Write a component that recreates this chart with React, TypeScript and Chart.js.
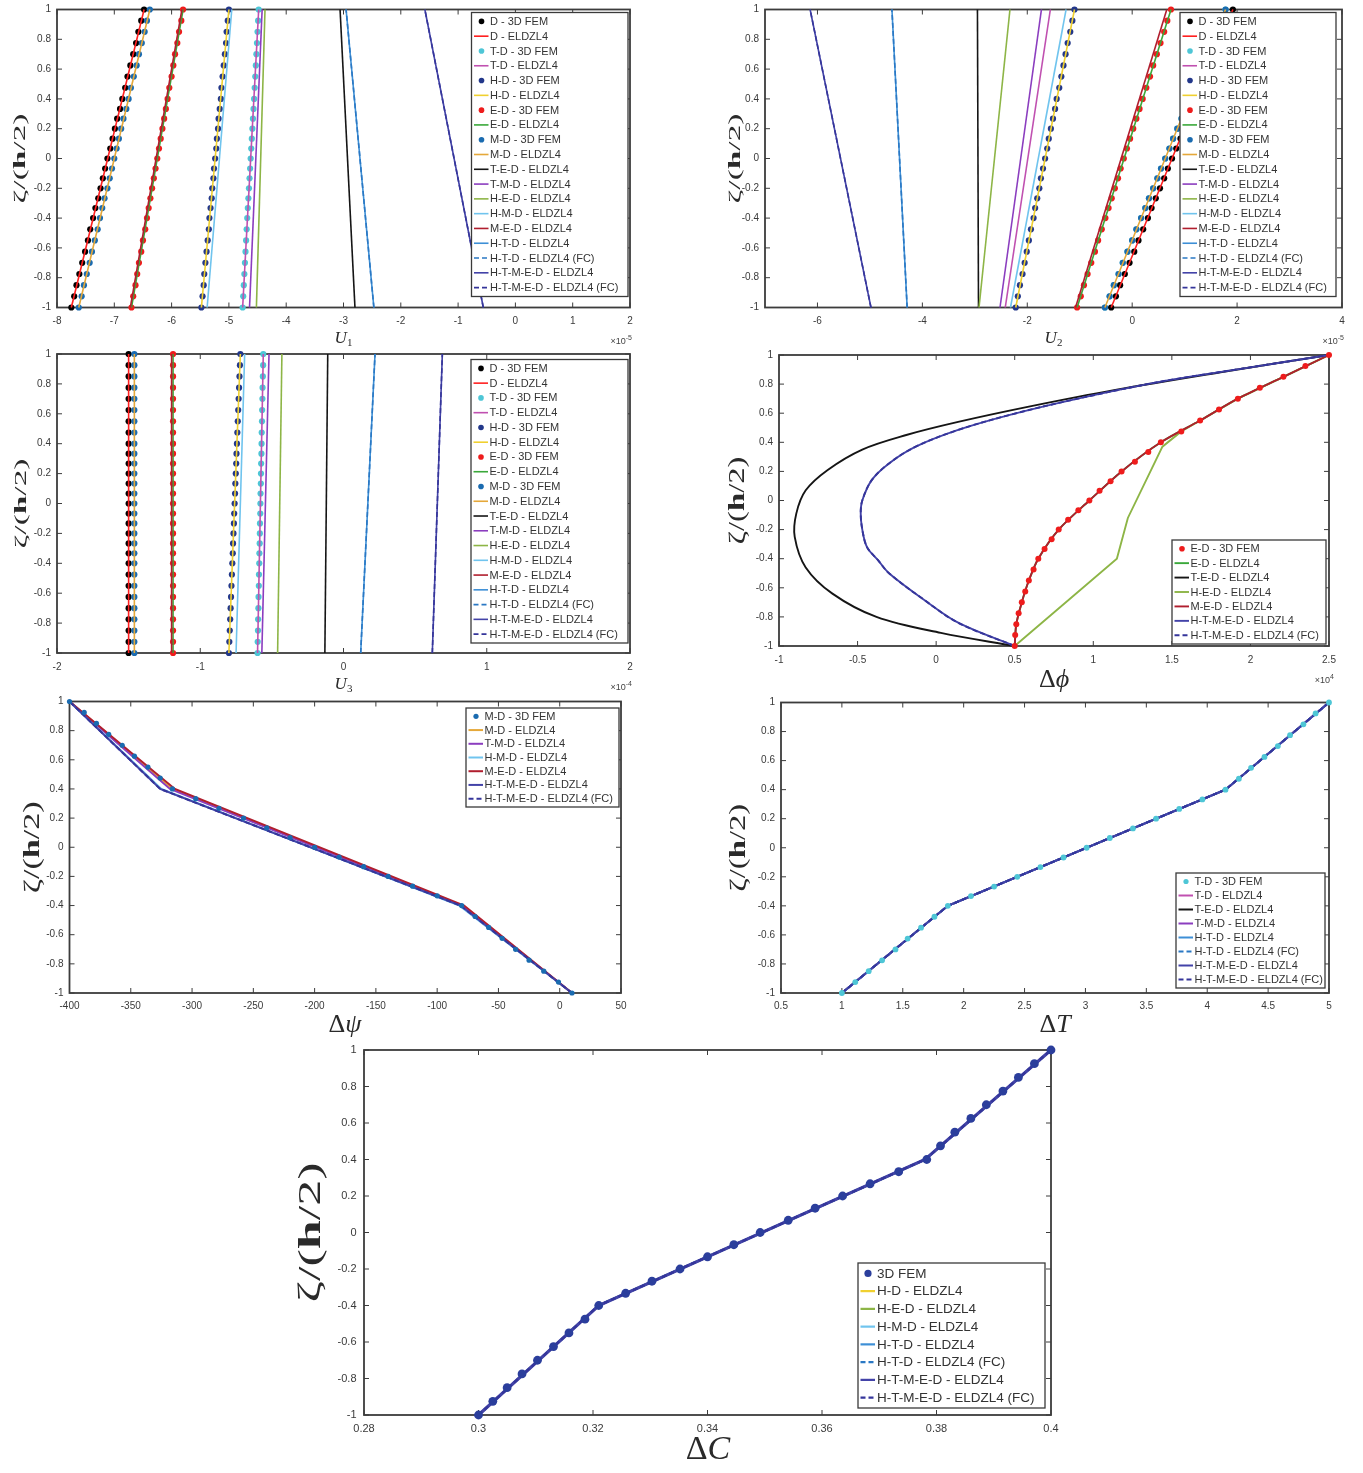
import React, { useEffect, useRef } from "react";
import { Chart, registerables } from "chart.js";

Chart.register(...registerables);

// ---------- through-thickness coordinates ζ/(h/2) ----------
const ZETA_FEM = [-1, -0.925, -0.85, -0.775, -0.7, -0.625, -0.55, -0.475, -0.4, -0.333, -0.267, -0.2, -0.133, -0.067, 0, 0.067, 0.133, 0.2, 0.267, 0.333, 0.4, 0.475, 0.55, 0.625, 0.7, 0.775, 0.85, 0.925, 1];
const ZETA_ENDS = [-1, 1];
const ZETA_LAYERS = [-1, -0.4, 0.4, 1];
const Y_TICKS = [-1, -0.8, -0.6, -0.4, -0.2, 0, 0.2, 0.4, 0.6, 0.8, 1];

// ---------- abscissa tick labels ----------
const U1_TICKS = [-8, -7, -6, -5, -4, -3, -2, -1, 0, 1, 2];
const U2_TICKS = [-6, -4, -2, 0, 2, 4];
const U3_TICKS = [-2, -1, 0, 1, 2];
const PHI_TICKS = [-1, -0.5, 0, 0.5, 1, 1.5, 2, 2.5];
const PSI_TICKS = [-400, -350, -300, -250, -200, -150, -100, -50, 0, 50];
const TEMP_TICKS = [0.5, 1, 1.5, 2, 2.5, 3, 3.5, 4, 4.5, 5];
const CONC_TICKS = [0.28, 0.3, 0.32, 0.34, 0.36, 0.38, 0.4];

// ---------- U1 (x 1e-5) ----------
const U1_D_FEM = [-7.75, -7.70, -7.66, -7.61, -7.56, -7.51, -7.46, -7.42, -7.37, -7.33, -7.28, -7.24, -7.20, -7.16, -7.12, -7.07, -7.03, -6.99, -6.95, -6.90, -6.86, -6.81, -6.77, -6.72, -6.67, -6.62, -6.58, -6.53, -6.48];
const U1_TD_FEM = [-4.76, -4.75, -4.74, -4.73, -4.72, -4.71, -4.70, -4.69, -4.68, -4.67, -4.66, -4.65, -4.64, -4.63, -4.62, -4.61, -4.60, -4.59, -4.58, -4.57, -4.56, -4.55, -4.54, -4.53, -4.52, -4.51, -4.50, -4.49, -4.48];
const U1_HD_FEM = [-5.48, -5.46, -5.44, -5.43, -5.41, -5.39, -5.37, -5.35, -5.34, -5.32, -5.30, -5.29, -5.27, -5.26, -5.24, -5.22, -5.21, -5.19, -5.18, -5.16, -5.14, -5.13, -5.11, -5.09, -5.07, -5.05, -5.04, -5.02, -5.00];
const U1_ED_FEM = [-6.70, -6.67, -6.63, -6.60, -6.57, -6.53, -6.50, -6.46, -6.43, -6.40, -6.37, -6.34, -6.31, -6.28, -6.25, -6.22, -6.19, -6.16, -6.13, -6.10, -6.07, -6.04, -6.00, -5.97, -5.94, -5.90, -5.87, -5.83, -5.80];
const U1_MD_FEM = [-7.62, -7.57, -7.53, -7.48, -7.43, -7.39, -7.34, -7.29, -7.25, -7.21, -7.17, -7.12, -7.08, -7.04, -7.00, -6.96, -6.92, -6.88, -6.84, -6.79, -6.75, -6.71, -6.66, -6.61, -6.57, -6.52, -6.47, -6.43, -6.38];
const U1_D = [-7.75, -6.48];
const U1_TD = [-4.76, -4.48];
const U1_HD = [-5.48, -5.0];
const U1_ED = [-6.7, -5.8];
const U1_MD = [-7.62, -6.38];
const U1_TED = [-2.8, -3.06];
const U1_TMD = [-4.64, -4.42];
const U1_HED = [-4.52, -4.37];
const U1_HMD = [-5.38, -4.95];
const U1_MED = [-6.72, -5.82];
const U1_HTD = [-2.47, -2.955];
const U1_HTD_FC = [-2.47, -2.955];
const U1_HTMED = [-0.56, -1.58];
const U1_HTMED_FC = [-0.56, -1.58];

// ---------- U2 (x 1e-5) ----------
const U2_D_FEM = [-0.40, -0.31, -0.23, -0.14, -0.05, 0.04, 0.12, 0.21, 0.30, 0.37, 0.45, 0.53, 0.61, 0.68, 0.76, 0.84, 0.92, 0.99, 1.07, 1.15, 1.22, 1.31, 1.40, 1.49, 1.57, 1.66, 1.75, 1.83, 1.92];
const U2_TD_FEM = [-0.52, -0.43, -0.35, -0.26, -0.18, -0.09, 0.00, 0.08, 0.17, 0.25, 0.32, 0.40, 0.48, 0.55, 0.63, 0.71, 0.78, 0.86, 0.94, 1.01, 1.09, 1.18, 1.26, 1.35, 1.44, 1.52, 1.61, 1.69, 1.78];
const U2_HD_FEM = [-2.22, -2.18, -2.14, -2.09, -2.05, -2.01, -1.97, -1.93, -1.88, -1.85, -1.81, -1.77, -1.74, -1.70, -1.66, -1.62, -1.59, -1.55, -1.51, -1.47, -1.44, -1.39, -1.35, -1.31, -1.27, -1.23, -1.18, -1.14, -1.10];
const U2_ED_FEM = [-1.05, -0.98, -0.92, -0.85, -0.78, -0.71, -0.65, -0.58, -0.51, -0.45, -0.39, -0.33, -0.27, -0.22, -0.16, -0.10, -0.04, 0.02, 0.08, 0.14, 0.20, 0.27, 0.34, 0.40, 0.47, 0.54, 0.61, 0.67, 0.74];
const U2_MD_FEM = [-0.52, -0.43, -0.35, -0.26, -0.18, -0.09, 0.00, 0.08, 0.17, 0.25, 0.32, 0.40, 0.48, 0.55, 0.63, 0.71, 0.78, 0.86, 0.94, 1.01, 1.09, 1.18, 1.26, 1.35, 1.44, 1.52, 1.61, 1.69, 1.78];
const U2_D = [-0.4, 1.92];
const U2_TD = [-2.42, -1.56];
const U2_HD = [-2.22, -1.1];
const U2_ED = [-1.05, 0.74];
const U2_MD = [-0.52, 1.78];
const U2_TED = [-2.93, -2.95];
const U2_TMD = [-2.52, -1.73];
const U2_HED = [-2.92, -2.33];
const U2_HMD = [-2.32, -1.26];
const U2_MED = [-1.08, 0.66];
const U2_HTD = [-4.29, -4.58];
const U2_HTD_FC = [-4.29, -4.58];
const U2_HTMED = [-4.98, -6.14];
const U2_HTMED_FC = [-4.98, -6.14];

// ---------- U3 (x 1e-4) ----------
const U3_D_FEM = [-1.5, -1.5, -1.5, -1.5, -1.5, -1.5, -1.5, -1.5, -1.5, -1.5, -1.5, -1.5, -1.5, -1.5, -1.5, -1.5, -1.5, -1.5, -1.5, -1.5, -1.5, -1.5, -1.5, -1.5, -1.5, -1.5, -1.5, -1.5, -1.5];
const U3_TD_FEM = [-0.600, -0.599, -0.597, -0.596, -0.594, -0.593, -0.591, -0.590, -0.588, -0.587, -0.585, -0.584, -0.583, -0.581, -0.580, -0.579, -0.577, -0.576, -0.575, -0.573, -0.572, -0.571, -0.569, -0.568, -0.566, -0.565, -0.563, -0.561, -0.560];
const U3_HD_FEM = [-0.800, -0.797, -0.794, -0.791, -0.788, -0.785, -0.782, -0.779, -0.776, -0.773, -0.771, -0.768, -0.765, -0.763, -0.760, -0.757, -0.755, -0.752, -0.749, -0.747, -0.744, -0.741, -0.738, -0.735, -0.732, -0.729, -0.726, -0.723, -0.720];
const U3_ED_FEM = [-1.19, -1.19, -1.19, -1.19, -1.19, -1.19, -1.19, -1.19, -1.19, -1.19, -1.19, -1.19, -1.19, -1.19, -1.19, -1.19, -1.19, -1.19, -1.19, -1.19, -1.19, -1.19, -1.19, -1.19, -1.19, -1.19, -1.19, -1.19, -1.19];
const U3_MD_FEM = [-1.46, -1.46, -1.46, -1.46, -1.46, -1.46, -1.46, -1.46, -1.46, -1.46, -1.46, -1.46, -1.46, -1.46, -1.46, -1.46, -1.46, -1.46, -1.46, -1.46, -1.46, -1.46, -1.46, -1.46, -1.46, -1.46, -1.46, -1.46, -1.46];
const U3_D = [-1.5, -1.5];
const U3_TD = [-0.6, -0.56];
const U3_HD = [-0.8, -0.72];
const U3_ED = [-1.19, -1.19];
const U3_MD = [-1.46, -1.46];
const U3_TED = [-0.13, -0.11];
const U3_TMD = [-0.57, -0.52];
const U3_HED = [-0.46, -0.43];
const U3_HMD = [-0.75, -0.69];
const U3_MED = [-1.2, -1.2];
const U3_HTD = [0.12, 0.22];
const U3_HTD_FC = [0.12, 0.22];
const U3_HTMED = [0.62, 0.69];
const U3_HTMED_FC = [0.62, 0.69];

// ---------- electric potential Δϕ (x 1e4) ----------
const PHI_ED_FEM = [0.50, 0.503, 0.51, 0.525, 0.545, 0.567, 0.59, 0.62, 0.65, 0.69, 0.735, 0.78, 0.84, 0.905, 0.975, 1.04, 1.11, 1.18, 1.265, 1.35, 1.43, 1.56, 1.68, 1.80, 1.92, 2.06, 2.21, 2.35, 2.5];
const ZETA_PHI_LINE = [-1, -0.85, -0.7, -0.55, -0.4, -0.2, 0, 0.2, 0.4, 0.55, 0.7, 0.85, 1];
const PHI_ED = [0.5, 0.51, 0.545, 0.59, 0.65, 0.78, 0.975, 1.18, 1.43, 1.68, 1.92, 2.21, 2.5];
const PHI_MED = [0.5, 0.51, 0.545, 0.59, 0.65, 0.78, 0.975, 1.18, 1.43, 1.68, 1.92, 2.21, 2.5];
const ZETA_PHI_TED = [-1, -0.91, -0.8, -0.64, -0.46, -0.25, -0.09, 0.07, 0.21, 0.35, 0.45, 0.54, 0.645, 0.76, 0.885, 1];
const PHI_TED = [0.5, 0.03, -0.38, -0.66, -0.83, -0.9, -0.89, -0.83, -0.69, -0.47, -0.19, 0.14, 0.59, 1.14, 1.83, 2.5];
const ZETA_PHI_HED = [-1, -0.4, -0.12, 0.37, 0.475, 0.55, 0.7, 0.85, 1];
const PHI_HED = [0.5, 1.15, 1.22, 1.44, 1.56, 1.68, 1.92, 2.21, 2.5];
const ZETA_PHI_HTMED = [-1, -0.84, -0.68, -0.5, -0.41, -0.32, -0.2, -0.09, 0, 0.14, 0.255, 0.37, 0.485, 0.59, 0.69, 0.815, 0.91, 1];
const PHI_HTMED = [0.5, 0.14, -0.08, -0.3, -0.37, -0.44, -0.47, -0.48, -0.47, -0.41, -0.3, -0.13, 0.14, 0.475, 0.86, 1.42, 1.97, 2.5];
const PHI_HTMED_FC = [0.5, 0.14, -0.08, -0.3, -0.37, -0.44, -0.47, -0.48, -0.47, -0.41, -0.3, -0.13, 0.14, 0.475, 0.86, 1.42, 1.97, 2.5];

// ---------- magnetic potential Δψ ----------
const PSI_MD_FEM = [10, -1, -13, -25, -36, -47, -58, -69, -80, -100, -120, -140, -160, -180, -200, -220, -239, -258, -278, -297, -316, -326, -336, -347, -357, -368, -378, -388, -400];
const PSI_MD = [10, -80, -316, -400];
const PSI_TMD = [10, -80, -318, -400];
const PSI_HMD = [10, -82, -325, -400];
const PSI_MED = [10, -78, -314, -400];
const PSI_HTMED = [10, -81, -326, -400];
const PSI_HTMED_FC = [10, -81, -326, -400];

// ---------- temperature ΔT ----------
const TEMP_TD_FEM = [1.00, 1.11, 1.22, 1.33, 1.44, 1.54, 1.65, 1.76, 1.87, 2.06, 2.25, 2.44, 2.63, 2.82, 3.01, 3.20, 3.39, 3.58, 3.77, 3.96, 4.15, 4.26, 4.36, 4.47, 4.58, 4.68, 4.79, 4.89, 5.00];
const TEMP_TD = [1, 1.87, 4.15, 5];
const TEMP_TED = [1, 1.87, 4.15, 5];
const TEMP_TMD = [1, 1.87, 4.15, 5];
const TEMP_HTD = [1, 1.87, 4.15, 5];
const TEMP_HTD_FC = [1, 1.87, 4.15, 5];
const TEMP_HTMED = [1, 1.87, 4.15, 5];
const TEMP_HTMED_FC = [1, 1.87, 4.15, 5];

// ---------- moisture concentration ΔC ----------
const CONC_FEM = [0.3000, 0.3025, 0.3050, 0.3076, 0.3103, 0.3131, 0.3158, 0.3186, 0.3210, 0.3257, 0.3303, 0.3352, 0.3400, 0.3446, 0.3492, 0.3541, 0.3588, 0.3636, 0.3684, 0.3734, 0.3783, 0.3807, 0.3832, 0.3860, 0.3887, 0.3916, 0.3943, 0.3971, 0.4000];
const CONC_HD = [0.3, 0.321, 0.378, 0.4];
const CONC_HED = [0.3, 0.321, 0.378, 0.4];
const CONC_HMD = [0.3, 0.321, 0.378, 0.4];
const CONC_HTD = [0.3, 0.321, 0.378, 0.4];
const CONC_HTD_FC = [0.3, 0.321, 0.378, 0.4];
const CONC_HTMED = [0.3, 0.321, 0.378, 0.4];
const CONC_HTMED_FC = [0.3, 0.321, 0.378, 0.4];

// ---------- styling ----------
const SANS = '"Liberation Sans", Arial, Helvetica, sans-serif';
const SERIF = '"Liberation Serif", "Times New Roman", "DejaVu Serif", serif';
const FRAME = "#3c3c3c";
const TEXT = "#2a2a2a";

const STYLE: Record<string, { color: string; dash?: number[] }> = {
  "D - 3D FEM": { color: "#000000" },
  "D - ELDZL4": { color: "#ff2020" },
  "T-D - 3D FEM": { color: "#4ec6d6" },
  "T-D - ELDZL4": { color: "#c050b0" },
  "H-D - 3D FEM": { color: "#22378a" },
  "H-D - ELDZL4": { color: "#f0d030" },
  "E-D - 3D FEM": { color: "#ee1c1c" },
  "E-D - ELDZL4": { color: "#3aa83a" },
  "M-D - 3D FEM": { color: "#1a6bb0" },
  "M-D - ELDZL4": { color: "#e5a83a" },
  "T-E-D - ELDZL4": { color: "#151515" },
  "T-M-D - ELDZL4": { color: "#8b3dbf" },
  "H-E-D - ELDZL4": { color: "#8db546" },
  "H-M-D - ELDZL4": { color: "#70c4ee" },
  "M-E-D - ELDZL4": { color: "#b01e2e" },
  "H-T-D - ELDZL4": { color: "#3d8fd6" },
  "H-T-D - ELDZL4 (FC)": { color: "#2a78c4", dash: [5, 3] },
  "H-T-M-E-D - ELDZL4": { color: "#4343a8" },
  "H-T-M-E-D - ELDZL4 (FC)": { color: "#35359a", dash: [5, 3] },
  "3D FEM": { color: "#2b3e9c" },
};

type Series = { label: string; zeta: number[]; values: number[]; marker?: boolean; tension?: number };

function uSeries(v: Record<string, number[]>): Series[] {
  return [
    { label: "D - 3D FEM", zeta: ZETA_FEM, values: v.dFem, marker: true },
    { label: "D - ELDZL4", zeta: ZETA_ENDS, values: v.d },
    { label: "T-D - 3D FEM", zeta: ZETA_FEM, values: v.tdFem, marker: true },
    { label: "T-D - ELDZL4", zeta: ZETA_ENDS, values: v.td },
    { label: "H-D - 3D FEM", zeta: ZETA_FEM, values: v.hdFem, marker: true },
    { label: "H-D - ELDZL4", zeta: ZETA_ENDS, values: v.hd },
    { label: "E-D - 3D FEM", zeta: ZETA_FEM, values: v.edFem, marker: true },
    { label: "E-D - ELDZL4", zeta: ZETA_ENDS, values: v.ed },
    { label: "M-D - 3D FEM", zeta: ZETA_FEM, values: v.mdFem, marker: true },
    { label: "M-D - ELDZL4", zeta: ZETA_ENDS, values: v.md },
    { label: "T-E-D - ELDZL4", zeta: ZETA_ENDS, values: v.ted },
    { label: "T-M-D - ELDZL4", zeta: ZETA_ENDS, values: v.tmd },
    { label: "H-E-D - ELDZL4", zeta: ZETA_ENDS, values: v.hed },
    { label: "H-M-D - ELDZL4", zeta: ZETA_ENDS, values: v.hmd },
    { label: "M-E-D - ELDZL4", zeta: ZETA_ENDS, values: v.med },
    { label: "H-T-D - ELDZL4", zeta: ZETA_ENDS, values: v.htd },
    { label: "H-T-D - ELDZL4 (FC)", zeta: ZETA_ENDS, values: v.htdFc },
    { label: "H-T-M-E-D - ELDZL4", zeta: ZETA_ENDS, values: v.htmed },
    { label: "H-T-M-E-D - ELDZL4 (FC)", zeta: ZETA_ENDS, values: v.htmedFc },
  ];
}

const U1_SERIES = uSeries({ dFem: U1_D_FEM, d: U1_D, tdFem: U1_TD_FEM, td: U1_TD, hdFem: U1_HD_FEM, hd: U1_HD, edFem: U1_ED_FEM, ed: U1_ED, mdFem: U1_MD_FEM, md: U1_MD, ted: U1_TED, tmd: U1_TMD, hed: U1_HED, hmd: U1_HMD, med: U1_MED, htd: U1_HTD, htdFc: U1_HTD_FC, htmed: U1_HTMED, htmedFc: U1_HTMED_FC });
const U2_SERIES = uSeries({ dFem: U2_D_FEM, d: U2_D, tdFem: U2_TD_FEM, td: U2_TD, hdFem: U2_HD_FEM, hd: U2_HD, edFem: U2_ED_FEM, ed: U2_ED, mdFem: U2_MD_FEM, md: U2_MD, ted: U2_TED, tmd: U2_TMD, hed: U2_HED, hmd: U2_HMD, med: U2_MED, htd: U2_HTD, htdFc: U2_HTD_FC, htmed: U2_HTMED, htmedFc: U2_HTMED_FC });
const U3_SERIES = uSeries({ dFem: U3_D_FEM, d: U3_D, tdFem: U3_TD_FEM, td: U3_TD, hdFem: U3_HD_FEM, hd: U3_HD, edFem: U3_ED_FEM, ed: U3_ED, mdFem: U3_MD_FEM, md: U3_MD, ted: U3_TED, tmd: U3_TMD, hed: U3_HED, hmd: U3_HMD, med: U3_MED, htd: U3_HTD, htdFc: U3_HTD_FC, htmed: U3_HTMED, htmedFc: U3_HTMED_FC });

const PHI_SERIES: Series[] = [
  { label: "E-D - 3D FEM", zeta: ZETA_FEM, values: PHI_ED_FEM, marker: true },
  { label: "E-D - ELDZL4", zeta: ZETA_PHI_LINE, values: PHI_ED, tension: 0.3 },
  { label: "T-E-D - ELDZL4", zeta: ZETA_PHI_TED, values: PHI_TED, tension: 0.35 },
  { label: "H-E-D - ELDZL4", zeta: ZETA_PHI_HED, values: PHI_HED },
  { label: "M-E-D - ELDZL4", zeta: ZETA_PHI_LINE, values: PHI_MED, tension: 0.3 },
  { label: "H-T-M-E-D - ELDZL4", zeta: ZETA_PHI_HTMED, values: PHI_HTMED, tension: 0.35 },
  { label: "H-T-M-E-D - ELDZL4 (FC)", zeta: ZETA_PHI_HTMED, values: PHI_HTMED_FC, tension: 0.35 },
];

const PSI_SERIES: Series[] = [
  { label: "M-D - 3D FEM", zeta: ZETA_FEM, values: PSI_MD_FEM, marker: true },
  { label: "M-D - ELDZL4", zeta: ZETA_LAYERS, values: PSI_MD },
  { label: "T-M-D - ELDZL4", zeta: ZETA_LAYERS, values: PSI_TMD },
  { label: "H-M-D - ELDZL4", zeta: ZETA_LAYERS, values: PSI_HMD },
  { label: "M-E-D - ELDZL4", zeta: ZETA_LAYERS, values: PSI_MED },
  { label: "H-T-M-E-D - ELDZL4", zeta: ZETA_LAYERS, values: PSI_HTMED },
  { label: "H-T-M-E-D - ELDZL4 (FC)", zeta: ZETA_LAYERS, values: PSI_HTMED_FC },
];

const TEMP_SERIES: Series[] = [
  { label: "T-D - 3D FEM", zeta: ZETA_FEM, values: TEMP_TD_FEM, marker: true },
  { label: "T-D - ELDZL4", zeta: ZETA_LAYERS, values: TEMP_TD },
  { label: "T-E-D - ELDZL4", zeta: ZETA_LAYERS, values: TEMP_TED },
  { label: "T-M-D - ELDZL4", zeta: ZETA_LAYERS, values: TEMP_TMD },
  { label: "H-T-D - ELDZL4", zeta: ZETA_LAYERS, values: TEMP_HTD },
  { label: "H-T-D - ELDZL4 (FC)", zeta: ZETA_LAYERS, values: TEMP_HTD_FC },
  { label: "H-T-M-E-D - ELDZL4", zeta: ZETA_LAYERS, values: TEMP_HTMED },
  { label: "H-T-M-E-D - ELDZL4 (FC)", zeta: ZETA_LAYERS, values: TEMP_HTMED_FC },
];

const CONC_SERIES: Series[] = [
  { label: "3D FEM", zeta: ZETA_FEM, values: CONC_FEM, marker: true },
  { label: "H-D - ELDZL4", zeta: ZETA_LAYERS, values: CONC_HD },
  { label: "H-E-D - ELDZL4", zeta: ZETA_LAYERS, values: CONC_HED },
  { label: "H-M-D - ELDZL4", zeta: ZETA_LAYERS, values: CONC_HMD },
  { label: "H-T-D - ELDZL4", zeta: ZETA_LAYERS, values: CONC_HTD },
  { label: "H-T-D - ELDZL4 (FC)", zeta: ZETA_LAYERS, values: CONC_HTD_FC },
  { label: "H-T-M-E-D - ELDZL4", zeta: ZETA_LAYERS, values: CONC_HTMED },
  { label: "H-T-M-E-D - ELDZL4 (FC)", zeta: ZETA_LAYERS, values: CONC_HTMED_FC },
];

// ---------- panel layout ----------
type Part = { text: string; font: string; dy?: number };
type Rect = { l: number; t: number; r: number; b: number };
type Panel = {
  id: string;
  box: { x: number; y: number; w: number; h: number };
  plot: Rect;
  xMin: number;
  xMax: number;
  xTicks: number[];
  series: Series[];
  lineWidth: number;
  markerRadius: number;
  markersOnTop?: boolean;
  tickFont: number;
  xTickGap: number;
  yTickGap: number;
  legend: Rect & { font: number; marker: number };
  yTitle: { cx: number; size: number; len: number };
  xTitle: { cx: number; cy: number; parts: Part[] };
  exponent?: { right: number; base: number; parts: Part[] };
  widthOverride?: Record<string, number>;
};

const uTitle = (n: string): Part[] => [
  { text: "U", font: `italic 17px ${SERIF}` },
  { text: n, font: `11px ${SERIF}`, dy: 4 },
];
const deltaTitle = (sym: string, size: number): Part[] => [
  { text: "Δ", font: `${size}px ${SERIF}` },
  { text: sym, font: `italic ${size}px ${SERIF}` },
];
const expo = (p: string): Part[] => [
  { text: "×10", font: `9px ${SANS}` },
  { text: p, font: `7px ${SANS}`, dy: -4 },
];

const PANELS: Panel[] = [
  {
    id: "u1", box: { x: 0, y: 0, w: 665, h: 350 }, plot: { l: 57, t: 9.5, r: 630, b: 307.5 },
    xMin: -8, xMax: 2, xTicks: U1_TICKS, series: U1_SERIES, lineWidth: 1.6, markerRadius: 3.1,
    tickFont: 10, xTickGap: 14, yTickGap: 6,
    legend: { l: 471.5, t: 12.5, r: 628, b: 296.5, font: 11, marker: 2.8 },
    yTitle: { cx: 20.5, size: 17, len: 90 },
    xTitle: { cx: 343.5, cy: 339, parts: uTitle("1") },
    exponent: { right: 632, base: 344, parts: expo("-5") },
  },
  {
    id: "u2", box: { x: 690, y: 0, w: 673, h: 350 }, plot: { l: 765, t: 9.5, r: 1342, b: 307.5 },
    xMin: -7, xMax: 4, xTicks: U2_TICKS, series: U2_SERIES, lineWidth: 1.6, markerRadius: 3.1,
    tickFont: 10, xTickGap: 14, yTickGap: 6,
    legend: { l: 1180, t: 12.5, r: 1336, b: 296.5, font: 11, marker: 2.8 },
    yTitle: { cx: 735.5, size: 17, len: 90 },
    xTitle: { cx: 1053.5, cy: 339, parts: uTitle("2") },
    exponent: { right: 1344, base: 344, parts: expo("-5") },
  },
  {
    id: "u3", box: { x: 0, y: 346, w: 665, h: 350 }, plot: { l: 57, t: 354, r: 630, b: 653 },
    xMin: -2, xMax: 2, xTicks: U3_TICKS, series: U3_SERIES, lineWidth: 1.6, markerRadius: 3.1,
    tickFont: 10, xTickGap: 14, yTickGap: 6,
    legend: { l: 471, t: 359.5, r: 628, b: 643, font: 11, marker: 2.8 },
    yTitle: { cx: 21.5, size: 17, len: 90 },
    xTitle: { cx: 343.5, cy: 685, parts: uTitle("3") },
    exponent: { right: 632, base: 690, parts: expo("-4") },
  },
  {
    id: "phi", box: { x: 690, y: 346, w: 673, h: 350 }, plot: { l: 779, t: 355, r: 1329, b: 646 },
    xMin: -1, xMax: 2.5, xTicks: PHI_TICKS, series: PHI_SERIES, lineWidth: 1.9, markerRadius: 3,
    markersOnTop: true,
    tickFont: 10, xTickGap: 14.5, yTickGap: 6,
    legend: { l: 1172, t: 540, r: 1326, b: 644, font: 11, marker: 2.8 },
    yTitle: { cx: 737.5, size: 24, len: 88 },
    xTitle: { cx: 1054, cy: 680, parts: deltaTitle("ϕ", 26) },
    exponent: { right: 1334, base: 683, parts: expo("4") },
  },
  {
    id: "psi", box: { x: 0, y: 694, w: 665, h: 350 }, plot: { l: 69.5, t: 701.5, r: 621, b: 993 },
    xMin: -400, xMax: 50, xTicks: PSI_TICKS, series: PSI_SERIES, lineWidth: 2, markerRadius: 2.6,
    markersOnTop: true,
    tickFont: 10, xTickGap: 13, yTickGap: 6,
    legend: { l: 466, t: 708, r: 619, b: 807, font: 11, marker: 2.6 },
    yTitle: { cx: 32.5, size: 24, len: 92 },
    xTitle: { cx: 345, cy: 1025, parts: deltaTitle("ψ", 26) },
  },
  {
    id: "temp", box: { x: 690, y: 694, w: 673, h: 350 }, plot: { l: 781, t: 702.5, r: 1329, b: 993 },
    xMin: 0.5, xMax: 5, xTicks: TEMP_TICKS, series: TEMP_SERIES, lineWidth: 2, markerRadius: 2.9,
    markersOnTop: true,
    tickFont: 10, xTickGap: 13, yTickGap: 6,
    legend: { l: 1176, t: 873, r: 1325, b: 988, font: 11, marker: 2.6 },
    yTitle: { cx: 739, size: 24, len: 88 },
    xTitle: { cx: 1055, cy: 1025, parts: deltaTitle("T", 26) },
  },
  {
    id: "conc", box: { x: 270, y: 1040, w: 820, h: 433 }, plot: { l: 364, t: 1050, r: 1051, b: 1415 },
    xMin: 0.28, xMax: 0.4, xTicks: CONC_TICKS, series: CONC_SERIES, lineWidth: 2.2, markerRadius: 4.4,
    markersOnTop: true,
    tickFont: 11, xTickGap: 13.5, yTickGap: 7.5,
    legend: { l: 858, t: 1263, r: 1045, b: 1408, font: 13.5, marker: 3.6 },
    yTitle: { cx: 312, size: 32, len: 140 },
    xTitle: { cx: 708, cy: 1450, parts: deltaTitle("C", 34) },
    widthOverride: { "H-T-M-E-D - ELDZL4": 3.2 },
  },
];

// ---------- text helpers ----------
function partsWidth(ctx: CanvasRenderingContext2D, parts: Part[]) {
  let w = 0;
  for (const p of parts) {
    ctx.font = p.font;
    w += ctx.measureText(p.text).width;
  }
  return w;
}

function drawParts(ctx: CanvasRenderingContext2D, parts: Part[], x: number, y: number, align: "left" | "center" | "right") {
  const w = partsWidth(ctx, parts);
  let cx = align === "center" ? x - w / 2 : align === "right" ? x - w : x;
  ctx.textAlign = "left";
  for (const p of parts) {
    ctx.font = p.font;
    ctx.fillText(p.text, cx, y + (p.dy || 0));
    cx += ctx.measureText(p.text).width;
  }
}

const fmt = (v: number) => String(v);

function decorations(p: Panel) {
  const ox = p.box.x;
  const oy = p.box.y;
  return {
    id: "decor-" + p.id,
    beforeDatasetsDraw(chart: any) {
      const ctx: CanvasRenderingContext2D = chart.ctx;
      const a = chart.chartArea;
      const xs = chart.scales.x;
      const ys = chart.scales.y;
      ctx.save();
      // axes box
      ctx.strokeStyle = FRAME;
      ctx.lineWidth = 1.8;
      ctx.strokeRect(a.left, a.top, a.right - a.left, a.bottom - a.top);
      // inward tick marks on all four sides
      ctx.lineWidth = 1;
      const tl = 5;
      ctx.beginPath();
      for (const v of p.xTicks) {
        const px = xs.getPixelForValue(v);
        ctx.moveTo(px, a.bottom);
        ctx.lineTo(px, a.bottom - tl);
        ctx.moveTo(px, a.top);
        ctx.lineTo(px, a.top + tl);
      }
      for (const v of Y_TICKS) {
        const py = ys.getPixelForValue(v);
        ctx.moveTo(a.left, py);
        ctx.lineTo(a.left + tl, py);
        ctx.moveTo(a.right, py);
        ctx.lineTo(a.right - tl, py);
      }
      ctx.stroke();
      // tick labels
      ctx.fillStyle = "#3a3a3a";
      ctx.font = `${p.tickFont}px ${SANS}`;
      ctx.textBaseline = "middle";
      ctx.textAlign = "center";
      for (const v of p.xTicks) ctx.fillText(fmt(v), xs.getPixelForValue(v), a.bottom + p.xTickGap);
      ctx.textAlign = "right";
      for (const v of Y_TICKS) ctx.fillText(fmt(v), a.left - p.yTickGap, ys.getPixelForValue(v));
      // abscissa title
      ctx.fillStyle = TEXT;
      ctx.textBaseline = "middle";
      drawParts(ctx, p.xTitle.parts, p.xTitle.cx - ox, p.xTitle.cy - oy, "center");
      // power-of-ten multiplier
      if (p.exponent) {
        ctx.fillStyle = "#444";
        ctx.textBaseline = "alphabetic";
        drawParts(ctx, p.exponent.parts, p.exponent.right - ox, p.exponent.base - oy, "right");
      }
      // ordinate title ζ/(h/2)
      const s = p.yTitle.size;
      const yParts: Part[] = [
        { text: "ζ/(", font: `${s}px ${SERIF}` },
        { text: "h", font: `bold ${s}px ${SERIF}` },
        { text: "/2)", font: `${s}px ${SERIF}` },
      ];
      ctx.save();
      ctx.fillStyle = TEXT;
      ctx.translate(p.yTitle.cx - ox, (a.top + a.bottom) / 2);
      ctx.rotate(-Math.PI / 2);
      const w = partsWidth(ctx, yParts);
      ctx.scale(p.yTitle.len / w, 1);
      ctx.textBaseline = "middle";
      drawParts(ctx, yParts, 0, 0, "center");
      ctx.restore();
      ctx.restore();
    },
    afterDraw(chart: any) {
      const ctx: CanvasRenderingContext2D = chart.ctx;
      const lg = p.legend;
      const l = lg.l - ox;
      const t = lg.t - oy;
      const w = lg.r - lg.l;
      const h = lg.b - lg.t;
      const sets = chart.data.datasets;
      ctx.save();
      ctx.fillStyle = "#ffffff";
      ctx.fillRect(l, t, w, h);
      ctx.strokeStyle = "#3a3a3a";
      ctx.lineWidth = 1.3;
      ctx.strokeRect(l, t, w, h);
      const pad = 1.5;
      const rowH = (h - 2 * pad) / sets.length;
      const textX = l + (p.id === "conc" ? 19 : 18.5);
      let fs = lg.font;
      ctx.font = `${fs}px ${SANS}`;
      let longest = 0;
      for (const ds of sets) longest = Math.max(longest, ctx.measureText(ds.label).width);
      const room = l + w - 2 - textX;
      if (longest > room) fs = (fs * room) / longest;
      for (let i = 0; i < sets.length; i++) {
        const ds = sets[i];
        const cy = t + pad + rowH * (i + 0.5);
        if (ds.showLine) {
          ctx.strokeStyle = ds.borderColor;
          ctx.lineWidth = Math.min(ds.borderWidth, 2.2);
          ctx.setLineDash(ds.borderDash || []);
          ctx.beginPath();
          ctx.moveTo(l + 2.5, cy);
          ctx.lineTo(l + 17, cy);
          ctx.stroke();
          ctx.setLineDash([]);
        } else {
          ctx.fillStyle = ds.pointBackgroundColor;
          ctx.beginPath();
          ctx.arc(l + 10, cy, lg.marker, 0, Math.PI * 2);
          ctx.fill();
        }
        ctx.fillStyle = "#333";
        ctx.font = `${fs}px ${SANS}`;
        ctx.textAlign = "left";
        ctx.textBaseline = "middle";
        ctx.fillText(ds.label, textX, cy + 0.5);
      }
      ctx.restore();
    },
  };
}

function buildConfig(p: Panel): any {
  const n = p.series.length;
  const datasets = p.series.map((s, i) => {
    const st = STYLE[s.label];
    const color = st.color;
    const width = (p.widthOverride && p.widthOverride[s.label]) || p.lineWidth;
    // later series are painted over earlier ones; measured points may be lifted above all lines
    const order = s.marker && p.markersOnTop ? 0 : n - i;
    return {
      label: s.label,
      data: s.zeta.map((z, k) => ({ x: s.values[k], y: z })),
      showLine: !s.marker,
      borderColor: color,
      backgroundColor: color,
      borderWidth: width,
      borderDash: st.dash || [],
      pointRadius: s.marker ? p.markerRadius : 0,
      pointHoverRadius: 0,
      pointBackgroundColor: color,
      pointBorderColor: color,
      pointBorderWidth: 0,
      tension: s.tension || 0,
      clip: false,
      order,
    };
  });
  return {
    type: "scatter",
    data: { datasets },
    options: {
      animation: false,
      responsive: false,
      devicePixelRatio: 1,
      events: [],
      layout: {
        padding: {
          left: p.plot.l - p.box.x,
          top: p.plot.t - p.box.y,
          right: p.box.x + p.box.w - p.plot.r,
          bottom: p.box.y + p.box.h - p.plot.b,
        },
      },
      scales: {
        x: { type: "linear", display: false, min: p.xMin, max: p.xMax },
        y: { type: "linear", display: false, min: -1, max: 1 },
      },
      plugins: { legend: { display: false }, tooltip: { enabled: false } },
    },
    plugins: [decorations(p)],
  };
}

function PanelChart({ panel }: { panel: Panel }) {
  const ref = useRef<HTMLCanvasElement>(null);
  useEffect(() => {
    const canvas = ref.current;
    if (!canvas) return;
    const chart = new Chart(canvas, buildConfig(panel));
    return () => chart.destroy();
  }, [panel]);
  const { x, y, w, h } = panel.box;
  return (
    <canvas
      ref={ref}
      width={w}
      height={h}
      style={{ position: "absolute", left: x, top: y, width: w, height: h }}
    />
  );
}

export default function App() {
  return (
    <div
      style={{
        position: "absolute",
        left: 0,
        top: 0,
        width: 1363,
        height: 1473,
        background: "#ffffff",
        overflow: "hidden",
      }}
    >
      {PANELS.map((p) => (
        <PanelChart key={p.id} panel={p} />
      ))}
    </div>
  );
}
